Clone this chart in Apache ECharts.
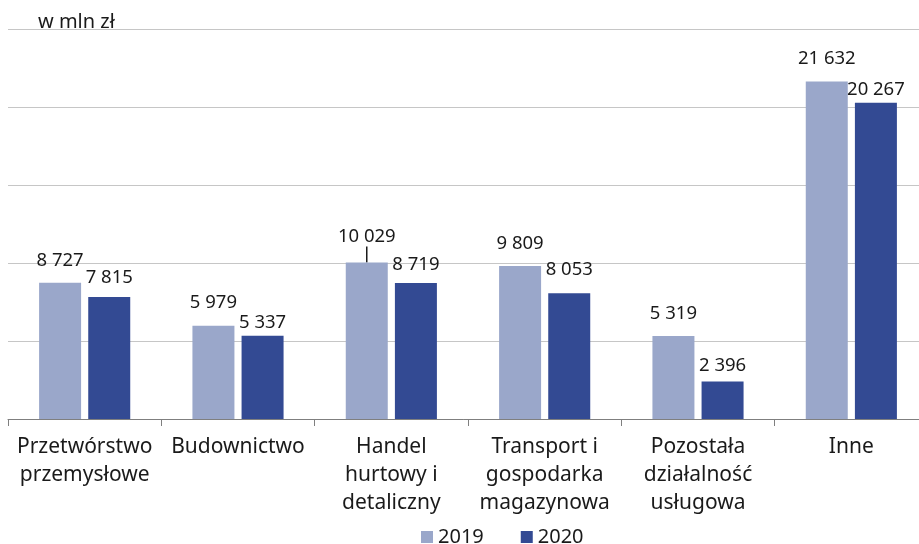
<!DOCTYPE html>
<html>
<head>
<meta charset="utf-8">
<script src="https://cdn.jsdelivr.net/npm/echarts@6/dist/echarts.min.js"></script>
<style>html,body{margin:0;padding:0;background:#fff}#c{width:919px;height:544px}</style>
</head>
<body>
<div id="c"></div>
<script>
var categories = ["Przetwórstwo\nprzemysłowe", "Budownictwo", "Handel\nhurtowy i\ndetaliczny", "Transport i\ngospodarka\nmagazynowa", "Pozostała\ndziałalność\nusługowa", "Inne"];
var seriesNames = ["2019", "2020"];
var values2019 = [8727, 5979, 10029, 9809, 5319, 21632];
var values2020 = [7815, 5337, 8719, 8053, 2396, 20267];
var yTicks = [0, 5000, 10000, 15000, 20000, 25000];
var unitLabel = "w mln zł";

var FONT = "Noto Sans";
var C19 = "#9AA7CA", C20 = "#334A93";
var dist2020 = [10, 4, 9, 14, 6, 4];
var leaderIndex = 2;

function fmt(v) { return String(v).replace(/\B(?=(\d{3})+(?!\d))/g, " "); }

var chart = echarts.init(document.getElementById('c'), null, {renderer: 'canvas'});
chart.setOption({
  animation: false,
  backgroundColor: '#fff',
  textStyle: {fontFamily: FONT},
  title: {
    text: unitLabel, left: 33, top: 7,
    textStyle: {fontFamily: FONT, fontSize: 20, fontWeight: 'normal', color: '#1a1a1a'}
  },
  legend: {
    left: 416, top: 522, itemWidth: 12, itemHeight: 12, itemGap: 37,
    icon: 'rect',
    textStyle: {fontFamily: FONT, fontSize: 20, color: '#1a1a1a', padding: [0, 0, 0, 0]},
    data: seriesNames
  },
  grid: {left: 8, width: 920, top: 29, bottom: 125, containLabel: false, outerBoundsMode: 'none'},
  xAxis: {
    type: 'category', data: categories, boundaryGap: true,
    axisLine: {show: true, lineStyle: {color: '#7f7f7f', width: 1}},
    axisTick: {show: true, length: 7, lineStyle: {color: '#7f7f7f'}},
    axisLabel: {interval: 0, margin: 14, fontFamily: FONT, fontSize: 21, lineHeight: 28, color: '#1a1a1a', align: 'center'}
  },
  yAxis: {
    type: 'value', min: yTicks[0], max: yTicks[yTicks.length - 1], interval: yTicks[1] - yTicks[0],
    axisLine: {show: false}, axisTick: {show: false}, axisLabel: {show: false},
    splitLine: {show: true, lineStyle: {color: '#c6c6c6', width: 1}}
  },
  series: [
    {
      name: seriesNames[0], type: 'bar', barWidth: 42, barGap: '17%',
      data: values2019.map(function (v, i) {
        return i === leaderIndex
          ? {value: v, labelLine: {show: true, lineStyle: {color: '#1a1a1a', width: 1.5}}}
          : {value: v, labelLine: {show: false}};
      }),
      itemStyle: {color: C19},
      label: {show: true, position: 'top', distance: 13, fontFamily: FONT, fontSize: 18.5, color: '#1a1a1a',
        formatter: function (p) { return fmt(p.value); }},
      labelLayout: function (p) { return p.dataIndex === leaderIndex ? {dy: -3} : {}; }
    },
    {
      name: seriesNames[1], type: 'bar', barWidth: 42,
      data: values2020.map(function (v, i) {
        return {value: v, label: {distance: dist2020[i]}};
      }),
      itemStyle: {color: C20},
      label: {show: true, position: 'top', fontFamily: FONT, fontSize: 18.5, color: '#1a1a1a',
        formatter: function (p) { return fmt(p.value); }}
    }
  ]
});
</script>
</body>
</html>
